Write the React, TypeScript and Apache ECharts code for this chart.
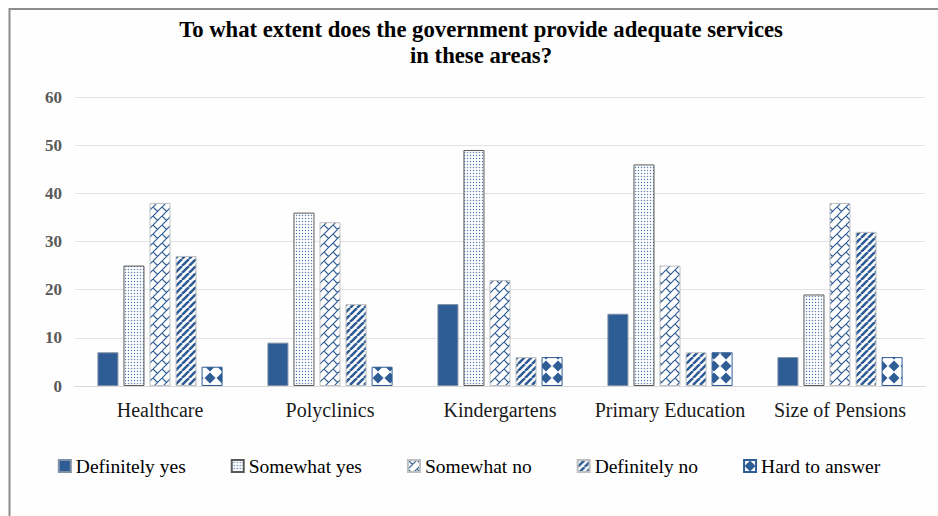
import React, { useEffect, useRef } from "react";
import * as echarts from "echarts";

const titleLines = ["To what extent does the government provide adequate services", "in these areas?"];
const categories = ["Healthcare", "Polyclinics", "Kindergartens", "Primary Education", "Size of Pensions"];
const seriesNames = ["Definitely yes", "Somewhat yes", "Somewhat no", "Definitely no", "Hard to answer"];
const definitelyYes = [7, 9, 17, 15, 6];
const somewhatYes = [25, 36, 49, 46, 19];
const somewhatNo = [38, 34, 22, 25, 38];
const definitelyNo = [27, 17, 6, 7, 32];
const hardToAnswer = [4, 4, 6, 7, 6];
const yMin = 0;
const yMax = 60;
const yInterval = 10;

const BLUE = "#2E5C94";
const FONT = "'Liberation Serif', 'DejaVu Serif', serif";

function makeCanvas(w: number, h: number, draw: (ctx: CanvasRenderingContext2D) => void) {
  const c = document.createElement("canvas");
  c.width = w;
  c.height = h;
  const ctx = c.getContext("2d")!;
  ctx.fillStyle = "#ffffff";
  ctx.fillRect(0, 0, w, h);
  draw(ctx);
  return c;
}

function dotsPattern() {
  return makeCanvas(3, 3, (ctx) => {
    ctx.fillStyle = "#E6EDF6";
    ctx.fillRect(0, 0, 3, 3);
    ctx.fillStyle = "#ffffff";
    ctx.fillRect(0, 0, 2, 2);
    ctx.fillStyle = "#5A7FB0";
    ctx.fillRect(2, 2, 1, 1);
  });
}

function weavePattern() {
  const s = 9;
  return makeCanvas(s, s, (ctx) => {
    ctx.strokeStyle = BLUE;
    ctx.lineWidth = 1.2;
    ctx.beginPath();
    for (const o of [-s, 0, s]) {
      ctx.moveTo(0 + o, s);
      ctx.lineTo(s + o, 0);
    }
    ctx.moveTo(0, 0);
    ctx.lineTo(s / 2, s / 2);
    ctx.moveTo(s, s);
    ctx.lineTo(s + s / 2, s + s / 2);
    ctx.moveTo(-s / 2, -s / 2);
    ctx.lineTo(0, 0);
    ctx.stroke();
  });
}

function stripesPattern() {
  const s = 7;
  return makeCanvas(s, s, (ctx) => {
    ctx.strokeStyle = BLUE;
    ctx.lineWidth = 2.6;
    ctx.beginPath();
    for (const o of [-s, 0, s]) {
      ctx.moveTo(0 + o, s);
      ctx.lineTo(s + o, 0);
    }
    ctx.stroke();
  });
}

function diamondPattern() {
  const s = 12;
  return makeCanvas(s, s, (ctx) => {
    ctx.fillStyle = BLUE;
    const r = 5.5;
    ctx.beginPath();
    ctx.moveTo(6, 6 - r);
    ctx.lineTo(6 + r, 6);
    ctx.lineTo(6, 6 + r);
    ctx.lineTo(6 - r, 6);
    ctx.closePath();
    ctx.fill();
  });
}

export default function App() {
  const ref = useRef<HTMLDivElement>(null);

  useEffect(() => {
    if (!ref.current) return;
    const chart = echarts.init(ref.current, null, { renderer: "svg" });

    const fills: any[] = [
      BLUE,
      { image: dotsPattern(), repeat: "repeat" },
      { image: weavePattern(), repeat: "repeat" },
      { image: stripesPattern(), repeat: "repeat" },
      { image: diamondPattern(), repeat: "repeat" },
    ];
    const borders = ["#7F8FA6", "#595959", "#BFBFBF", "#BFBFBF", BLUE];
    const dataSets = [definitelyYes, somewhatYes, somewhatNo, definitelyNo, hardToAnswer];

    chart.setOption({
      animation: false,
      backgroundColor: "#ffffff",
      graphic: [
        {
          type: "rect",
          z: -10,
          silent: true,
          shape: { x: 9.5, y: 9, width: 1000, height: 1000 },
          style: { fill: "#FEFEFE", stroke: "#8C8C8C", lineWidth: 2 },
        },
      ],
      title: {
        text: titleLines.join("\n"),
        left: 476,
        top: 11,
        textAlign: "center",
        textStyle: {
          fontFamily: FONT,
          fontWeight: "bold",
          fontSize: 22.7,
          lineHeight: 26,
          color: "#000000",
        },
      },
      legend: {
        data: seriesNames,
        bottom: 35,
        left: "center",
        icon: "rect",
        itemWidth: 12,
        itemHeight: 12,
        itemGap: 45,
        textStyle: { fontFamily: FONT, fontSize: 19.5, color: "#000000" },
      },
      grid: { left: 75, right: 13, top: 97, bottom: 130, containLabel: false },
      xAxis: {
        type: "category",
        data: categories,
        axisTick: { show: false },
        axisLine: { lineStyle: { color: "#D9D9D9", width: 1 } },
        axisLabel: {
          interval: 0,
          hideOverlap: false,
          fontFamily: FONT,
          fontSize: 20,
          color: "#1a1a1a",
          margin: 14,
        },
      },
      yAxis: {
        type: "value",
        min: yMin,
        max: yMax,
        interval: yInterval,
        axisLine: { show: false },
        axisTick: { show: false },
        splitLine: { lineStyle: { color: "#E3E3E3", width: 1 } },
        axisLabel: { fontFamily: FONT, fontSize: 17, fontWeight: "bold", color: "#595959", margin: 13 },
      },
      series: seriesNames.map((name, i) => ({
        name,
        type: "bar",
        data: dataSets[i],
        barWidth: 21,
        barGap: "24%",
        itemStyle: { color: fills[i], borderColor: borders[i], borderWidth: 1 },
      })),
    });

    return () => chart.dispose();
  }, []);

  return (
    <div
      ref={ref}
      style={{ position: "absolute", left: 0, top: 0, width: 938, height: 516 }}
    />
  );
}
